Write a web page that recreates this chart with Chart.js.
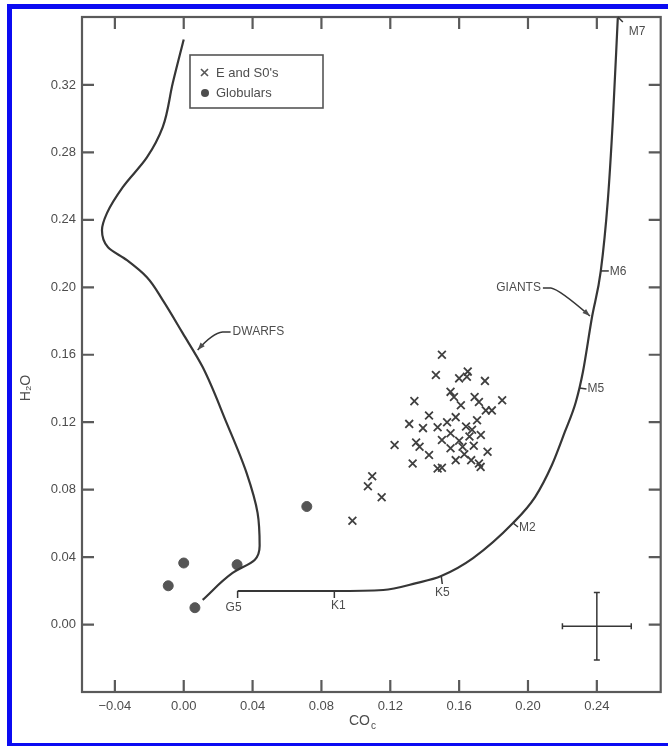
<!DOCTYPE html>
<html>
<head>
<meta charset="utf-8">
<script src="https://cdn.jsdelivr.net/npm/chart.js@4.4.1/dist/chart.umd.min.js"></script>
<style>
  html, body { margin: 0; padding: 0; background: #fff; }
  #wrap { position: relative; width: 668px; height: 746px; }
  .edge { position: absolute; background: #0b0bf2; }
</style>
</head>
<body>
<div id="wrap">
  <canvas id="chart" width="668" height="746"></canvas>
  <div class="edge" style="left:7px;top:4px;width:661px;height:5px"></div>
  <div class="edge" style="left:7px;top:4px;width:5px;height:742px"></div>
  <div class="edge" style="left:7px;top:743px;width:661px;height:3px"></div>
</div>
<script>
// axis ticks
const xTicks = [-0.04, 0.00, 0.04, 0.08, 0.12, 0.16, 0.20, 0.24]
const yTicks = [0.00, 0.04, 0.08, 0.12, 0.16, 0.20, 0.24, 0.28, 0.32]

// dwarf sequence (CO_c, H2O), top to bottom
const dwarfX = [0.0000, -0.0064, -0.0122, -0.0214, -0.0354, -0.0446, -0.0475, -0.0440, -0.0330, -0.0214, -0.0122, -0.0006, 0.0110, 0.0249, 0.0365, 0.0429, 0.0441, 0.0412, 0.0284, 0.0110]
const dwarfY = [0.3470, 0.3210, 0.2950, 0.2770, 0.2594, 0.2440, 0.2339, 0.2238, 0.2161, 0.2060, 0.1924, 0.1728, 0.1527, 0.1196, 0.0899, 0.0662, 0.0467, 0.0383, 0.0306, 0.0146]

// giant sequence, G5 upward
const giantX = [0.0313, 0.0875, 0.1159, 0.1351, 0.1496, 0.1681, 0.1913, 0.2041, 0.2139, 0.2214, 0.2278, 0.2319, 0.2371, 0.2423, 0.2464, 0.2493, 0.2522]
const giantY = [0.0199, 0.0199, 0.0205, 0.0246, 0.0288, 0.0394, 0.0602, 0.0756, 0.0946, 0.1142, 0.1320, 0.1498, 0.1818, 0.2097, 0.2518, 0.2992, 0.3603]

// spectral types marked along the giant branch
const specTypes = ['G5', 'K1', 'K5', 'M2', 'M5', 'M6', 'M7']
const specX = [0.0313, 0.0875, 0.1496, 0.1913, 0.2299, 0.2423, 0.2522]
const specY = [0.0199, 0.0199, 0.0288, 0.0602, 0.1403, 0.2097, 0.3603]

// E and S0 galaxies
const esoX = [0.1500, 0.1465, 0.1600, 0.1650, 0.1645, 0.1750, 0.1340, 0.1550, 0.1570, 0.1690, 0.1715, 0.1850, 0.1790, 0.1755, 0.1610, 0.1425, 0.1310, 0.1390, 0.1475, 0.1580, 0.1225, 0.1350, 0.1370, 0.1425, 0.1500, 0.1330, 0.1475, 0.1500, 0.1580, 0.1670, 0.1715, 0.1765, 0.1725, 0.1660, 0.1620, 0.1550, 0.1675, 0.1640, 0.1600, 0.1550, 0.1095, 0.1070, 0.1150, 0.0980, 0.1530, 0.1685, 0.1630, 0.1704, 0.1726]
const esoY = [0.1600, 0.1480, 0.1460, 0.1500, 0.1470, 0.1445, 0.1325, 0.1380, 0.1350, 0.1350, 0.1320, 0.1330, 0.1270, 0.1270, 0.1300, 0.1240, 0.1190, 0.1165, 0.1170, 0.1230, 0.1065, 0.1080, 0.1055, 0.1005, 0.1095, 0.0955, 0.0925, 0.0930, 0.0975, 0.0975, 0.0955, 0.1025, 0.0935, 0.1115, 0.1055, 0.1135, 0.1155, 0.1175, 0.1090, 0.1045, 0.0880, 0.0820, 0.0755, 0.0615, 0.1200, 0.1060, 0.1010, 0.1212, 0.1124]

// globular clusters
const globX = [0.0000, -0.0090, 0.0065, 0.0310, 0.0715]
const globY = [0.0365, 0.0230, 0.0100, 0.0355, 0.0700]

// typical error: centre and half-widths
const errCenter = [0.240, -0.001]
const errHalf = [0.020, 0.020]

// curve labels: [text, label x, label y, arrow tip x, arrow tip y]
const curveNotes = [
  ['DWARFS', 0.0284, 0.1735, 0.0081, 0.1628],
  ['GIANTS', 0.2075, 0.1996, 0.2360, 0.1830]
]

const INK = '#363636'
const TEXT = '#4d4d4d'
const FONT = '"Liberation Sans", Arial, sans-serif'

function pts(xs, ys) {
    return xs.map((x, i) => ({ x: x, y: ys[i] }))
}

function fmt(v) {
    return (v < 0 ? '\u2212' : '') + Math.abs(v).toFixed(2)
}

// where each spectral tick points and where its text sits (pixels)
const specLayout = {
    G5: { dx: 0, dy: 7, tx: -4, ty: 17, align: 'center' },
    K1: { dx: 0, dy: 7, tx: 4, ty: 15, align: 'center' },
    K5: { dx: 1, dy: 8, tx: 1, ty: 17, align: 'center' },
    M2: { dx: 5, dy: 4, tx: 6, ty: 5, align: 'left' },
    M5: { dx: 7, dy: 1, tx: 8, ty: 1, align: 'left' },
    M6: { dx: 8, dy: 0, tx: 9, ty: 1, align: 'left' },
    M7: { dx: 5, dy: 5, tx: 11, ty: 15, align: 'left' }
}

function arrowHead(ctx, fx, fy, tx, ty) {
    const a = Math.atan2(ty - fy, tx - fx)
    ctx.beginPath()
    ctx.moveTo(tx, ty)
    ctx.lineTo(tx - 8 * Math.cos(a - 0.35), ty - 8 * Math.sin(a - 0.35))
    ctx.lineTo(tx - 8 * Math.cos(a + 0.35), ty - 8 * Math.sin(a + 0.35))
    ctx.closePath()
    ctx.fill()
}

const inkPlugin = {
    id: 'ink',
    afterDatasetsDraw(chart) {
        const { ctx, chartArea: a, scales: { x, y } } = chart
        ctx.save()

        // frame with inward ticks on all four sides
        ctx.strokeStyle = '#5a5a5a'
        ctx.lineWidth = 2.2
        ctx.strokeRect(a.left, a.top, a.right - a.left, a.bottom - a.top)
        ctx.beginPath()
        xTicks.forEach(v => {
            const px = x.getPixelForValue(v)
            ctx.moveTo(px, a.bottom); ctx.lineTo(px, a.bottom - 12)
            ctx.moveTo(px, a.top); ctx.lineTo(px, a.top + 12)
        })
        yTicks.forEach(v => {
            const py = y.getPixelForValue(v)
            ctx.moveTo(a.left, py); ctx.lineTo(a.left + 12, py)
            ctx.moveTo(a.right, py); ctx.lineTo(a.right - 12, py)
        })
        ctx.stroke()

        ctx.fillStyle = TEXT
        ctx.strokeStyle = INK
        ctx.lineWidth = 1.5
        ctx.font = '12px ' + FONT
        ctx.textBaseline = 'middle'

        // spectral type marks on the giant branch
        specTypes.forEach((t, i) => {
            const px = x.getPixelForValue(specX[i])
            const py = y.getPixelForValue(specY[i])
            const s = specLayout[t]
            ctx.beginPath()
            ctx.moveTo(px, py); ctx.lineTo(px + s.dx, py + s.dy)
            ctx.stroke()
            ctx.textAlign = s.align
            ctx.fillText(t, px + s.tx, py + s.ty)
        })

        // DWARFS / GIANTS leaders
        curveNotes.forEach(n => {
            const lx = x.getPixelForValue(n[1]), ly = y.getPixelForValue(n[2])
            const tx = x.getPixelForValue(n[3]), ty = y.getPixelForValue(n[4])
            const left = tx < lx
            const sx = left ? lx - 2 : lx + 2
            const hx = left ? sx - 8 : sx + 8
            const cx = left ? hx - 10 : hx + 8
            ctx.textAlign = left ? 'left' : 'right'
            ctx.fillText(n[0], lx, ly)
            ctx.beginPath()
            ctx.moveTo(sx, ly)
            ctx.lineTo(hx, ly)
            ctx.quadraticCurveTo(cx, ly + 1, tx, ty)
            ctx.stroke()
            arrowHead(ctx, cx, ly + 1, tx, ty)
        })

        // error cross
        const ex = x.getPixelForValue(errCenter[0]), ey = y.getPixelForValue(errCenter[1])
        const ex0 = x.getPixelForValue(errCenter[0] - errHalf[0]), ex1 = x.getPixelForValue(errCenter[0] + errHalf[0])
        const ey0 = y.getPixelForValue(errCenter[1] - errHalf[1]), ey1 = y.getPixelForValue(errCenter[1] + errHalf[1])
        ctx.beginPath()
        ctx.moveTo(ex0, ey); ctx.lineTo(ex1, ey)
        ctx.moveTo(ex, ey0); ctx.lineTo(ex, ey1)
        ctx.moveTo(ex0, ey - 3); ctx.lineTo(ex0, ey + 3)
        ctx.moveTo(ex1, ey - 3); ctx.lineTo(ex1, ey + 3)
        ctx.moveTo(ex - 3, ey0); ctx.lineTo(ex + 3, ey0)
        ctx.moveTo(ex - 3, ey1); ctx.lineTo(ex + 3, ey1)
        ctx.stroke()

        // legend box
        const bx = a.left + 108, by = a.top + 38
        ctx.strokeStyle = '#555'
        ctx.lineWidth = 1.6
        ctx.strokeRect(bx, by, 133, 53)
        ctx.lineWidth = 1.6
        ctx.beginPath()
        ctx.moveTo(bx + 11, by + 14); ctx.lineTo(bx + 18, by + 21)
        ctx.moveTo(bx + 18, by + 14); ctx.lineTo(bx + 11, by + 21)
        ctx.stroke()
        ctx.beginPath()
        ctx.arc(bx + 15, by + 38, 4, 0, Math.PI * 2)
        ctx.fill()
        ctx.textAlign = 'left'
        ctx.font = '13px ' + FONT
        ctx.fillText("E and S0's", bx + 26, by + 18)
        ctx.fillText('Globulars', bx + 26, by + 38)

        // axis titles
        ctx.font = '14px ' + FONT
        ctx.save()
        ctx.translate(26, 388)
        ctx.rotate(-Math.PI / 2)
        ctx.textAlign = 'center'
        ctx.fillText('H\u2082O', 0, 0)
        ctx.restore()
        ctx.textAlign = 'left'
        ctx.fillText('CO', 349, 721)
        ctx.font = '10px ' + FONT
        ctx.fillText('c', 371, 726)

        ctx.restore()
    }
}

new Chart(document.getElementById('chart'), {
    type: 'scatter',
    data: {
        datasets: [{
            label: 'Dwarfs',
            data: pts(dwarfX, dwarfY),
            indexAxis: 'y',
            showLine: true,
            cubicInterpolationMode: 'monotone',
            borderColor: INK,
            borderWidth: 2.2,
            pointRadius: 0,
            clip: false
        }, {
            label: 'Giants',
            data: pts(giantX, giantY),
            showLine: true,
            cubicInterpolationMode: 'monotone',
            borderColor: INK,
            borderWidth: 2.2,
            pointRadius: 0,
            clip: false
        }, {
            label: "E and S0's",
            data: pts(esoX, esoY),
            pointStyle: 'crossRot',
            pointRadius: 5.5,
            borderWidth: 1.8,
            borderColor: '#404040'
        }, {
            label: 'Globulars',
            data: pts(globX, globY),
            pointStyle: 'circle',
            pointRadius: 5,
            backgroundColor: '#555',
            borderColor: '#555'
        }]
    },
    options: {
        responsive: false,
        animation: false,
        layout: { padding: { top: 17, right: 6, left: 0, bottom: 0 } },
        plugins: { legend: { display: false }, tooltip: { enabled: false } },
        scales: {
            x: {
                type: 'linear',
                min: -0.0591,
                max: 0.2771,
                afterBuildTicks: s => { s.ticks = xTicks.map(v => ({ value: v })) },
                afterFit: s => { s.height = 54 },
                grid: { display: false, drawTicks: false },
                border: { display: false },
                ticks: {
                    callback: v => fmt(v),
                    autoSkip: false,
                    maxRotation: 0,
                    padding: 7,
                    color: TEXT,
                    font: { family: FONT, size: 13 }
                }
            },
            y: {
                type: 'linear',
                min: -0.0400,
                max: 0.3603,
                afterBuildTicks: s => { s.ticks = yTicks.map(v => ({ value: v })) },
                afterFit: s => { s.width = 82 },
                grid: { display: false, drawTicks: false },
                border: { display: false },
                ticks: {
                    callback: v => fmt(v),
                    autoSkip: false,
                    padding: 6,
                    color: TEXT,
                    font: { family: FONT, size: 13 }
                }
            }
        }
    },
    plugins: [inkPlugin]
})
</script>
</body>
</html>
